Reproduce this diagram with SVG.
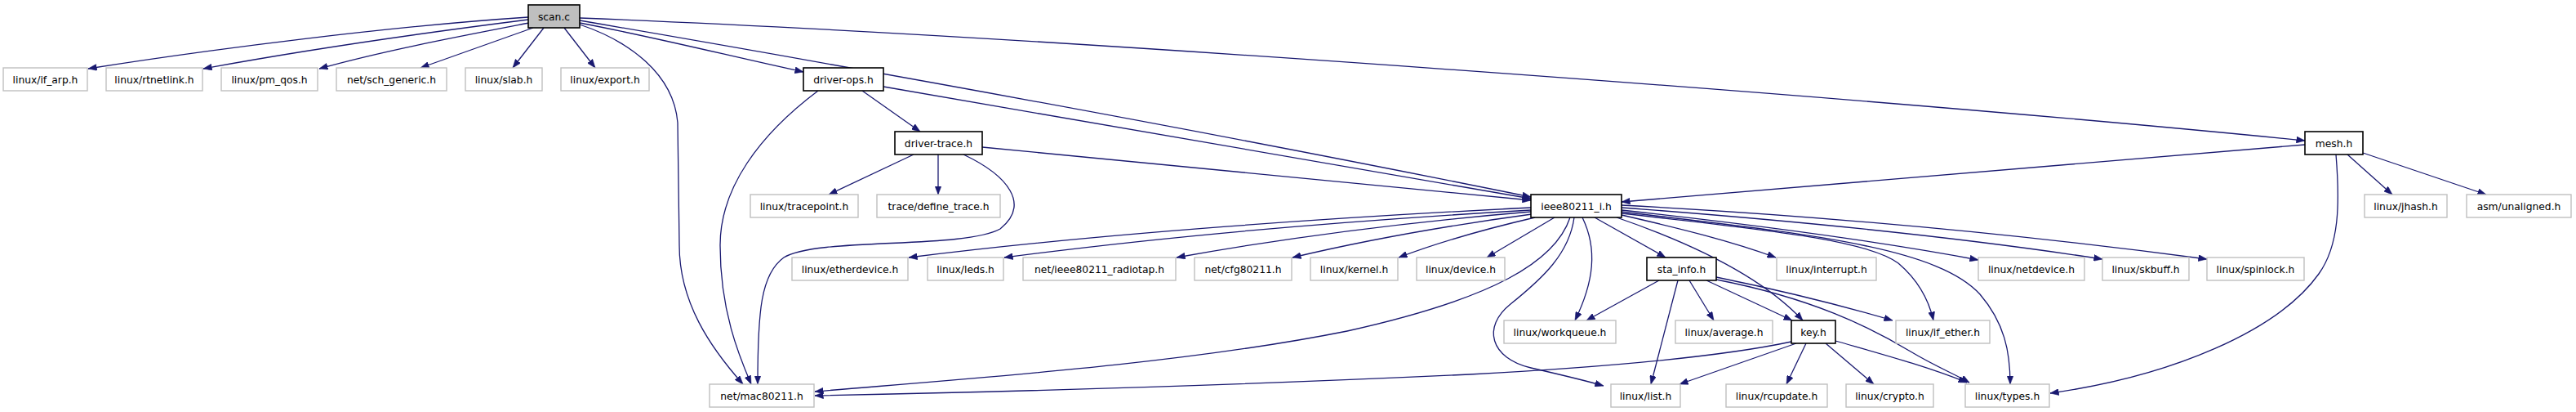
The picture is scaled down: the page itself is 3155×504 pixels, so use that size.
<svg xmlns="http://www.w3.org/2000/svg" width="3155" height="504" viewBox="0 0 3155 504">
<defs>
<marker id="a" markerWidth="11" markerHeight="8" refX="10.5" refY="4" orient="auto" markerUnits="userSpaceOnUse"><path d="M0,0 L10.5,4 L0,8 z" fill="#191970" stroke="#191970" stroke-width="0.5"/></marker>
<style>
.g rect{fill:#fff;stroke:#bfbfbf;stroke-width:1.4}
.k rect{fill:#fff;stroke:#000;stroke-width:1.6}
.r rect{fill:#bfbfbf;stroke:#000;stroke-width:1.6}
text{font-family:"DejaVu Sans","Liberation Sans",sans-serif;font-size:12.3px;fill:#000;text-anchor:middle}
#edges path{fill:none;stroke:#191970;stroke-width:1.3;marker-end:url(#a)}
</style>
</defs>
<rect width="3155" height="504" fill="#fff"/>
<g id="edges">
<path d="M647,21 C480,32 260,60 108,84"/>
<path d="M647,24 C520,40 380,60 249,84"/>
<path d="M648,28 C560,45 470,62 391,84"/>
<path d="M653,34 L515,83"/>
<path d="M666,34 L628,83"/>
<path d="M691,34 L729,83"/>
<path d="M710,28 C800,45 900,70 984,88"/>
<path d="M710,25 C1100,92 1500,165 1875,241"/>
<path d="M710,22 C1300,45 2300,120 2823,172"/>
<path d="M710,30 C770,50 825,90 830,150 L832,300 C832,370 870,425 910,470"/>
<path d="M1056,111 L1127,161"/>
<path d="M1082,106 L1875,243"/>
<path d="M1002,111 C930,165 882,230 882,300 C882,380 905,435 920,470"/>
<path d="M1119,189 L1015,238"/>
<path d="M1149,189 L1149,238"/>
<path d="M1203,180 L1875,245"/>
<path d="M1180,189 C1235,215 1262,250 1225,280 C1180,305 1000,290 960,315 C932,335 928,380 928,470"/>
<path d="M2823,177 L1986,247"/>
<path d="M2875,189 L2930,238"/>
<path d="M2894,187 L3045,238"/>
<path d="M2861,189 C2866,250 2865,300 2840,335 C2790,405 2660,460 2511,481"/>
<path d="M1875,254 C1650,265 1350,285 1113,315"/>
<path d="M1875,257 C1650,270 1420,290 1230,315"/>
<path d="M1875,259 C1720,272 1580,290 1441,315"/>
<path d="M1876,262 C1780,275 1680,292 1583,315"/>
<path d="M1880,266 C1820,280 1760,297 1713,315"/>
<path d="M1904,266 L1821,315"/>
<path d="M1953,266 L2040,315"/>
<path d="M1980,266 C2050,290 2150,330 2208,392"/>
<path d="M1986,263 C2060,280 2120,295 2175,315"/>
<path d="M1986,261 C2150,280 2285,292 2325,322 C2352,345 2363,370 2368,392"/>
<path d="M1986,259 C2200,285 2370,300 2425,360 C2455,395 2462,430 2462,470"/>
<path d="M1986,257 C2150,275 2300,295 2423,318"/>
<path d="M1986,254 C2200,270 2400,290 2575,317"/>
<path d="M1986,251 C2250,265 2500,290 2703,317"/>
<path d="M1928,266 C1922,310 1890,340 1850,372 C1815,400 1825,438 1875,450 C1910,458 1940,465 1964,472"/>
<path d="M1938,266 C1957,305 1952,345 1929,392"/>
<path d="M1923,266 C1905,320 1830,365 1650,405 C1450,445 1200,462 998,479"/>
<path d="M2032,343 L1943,392"/>
<path d="M2055,343 L2022,470"/>
<path d="M2069,343 L2099,392"/>
<path d="M2090,343 L2195,392"/>
<path d="M2102,339 C2180,355 2260,375 2318,392"/>
<path d="M2102,342 C2220,365 2290,400 2340,430 C2370,448 2395,458 2412,468"/>
<path d="M2194,418 C2100,438 1950,450 1800,458 C1500,472 1200,480 998,484"/>
<path d="M2200,420 L2057,470"/>
<path d="M2212,420 L2188,470"/>
<path d="M2236,420 L2295,470"/>
<path d="M2248,417 C2300,432 2360,448 2409,468"/>
</g>
<g id="n_scan" class="r"><rect x="647" y="6" width="63" height="28"/><text x="678.5" y="24.5">scan.c</text></g>
<g id="n_if_arp" class="g"><rect x="4" y="83" width="103" height="28"/><text x="55.5" y="101.5">linux/if_arp.h</text></g>
<g id="n_rtnetlink" class="g"><rect x="130" y="83" width="118" height="28"/><text x="189" y="101.5">linux/rtnetlink.h</text></g>
<g id="n_pm_qos" class="g"><rect x="271" y="83" width="118" height="28"/><text x="330" y="101.5">linux/pm_qos.h</text></g>
<g id="n_sch_generic" class="g"><rect x="412" y="83" width="135" height="28"/><text x="479.5" y="101.5">net/sch_generic.h</text></g>
<g id="n_slab" class="g"><rect x="570" y="83" width="94" height="28"/><text x="617" y="101.5">linux/slab.h</text></g>
<g id="n_export" class="g"><rect x="687" y="83" width="108" height="28"/><text x="741" y="101.5">linux/export.h</text></g>
<g id="n_driver_ops" class="k"><rect x="984" y="83" width="98" height="28"/><text x="1033" y="101.5">driver-ops.h</text></g>
<g id="n_driver_trace" class="k"><rect x="1096" y="161" width="107" height="28"/><text x="1149.5" y="179.5">driver-trace.h</text></g>
<g id="n_mesh" class="k"><rect x="2823" y="161" width="71" height="28"/><text x="2858.5" y="179.5">mesh.h</text></g>
<g id="n_tracepoint" class="g"><rect x="919" y="238" width="132" height="28"/><text x="985" y="256.5">linux/tracepoint.h</text></g>
<g id="n_define_trace" class="g"><rect x="1074" y="238" width="151" height="28"/><text x="1149.5" y="256.5">trace/define_trace.h</text></g>
<g id="n_ieee80211_i" class="k"><rect x="1875" y="238" width="111" height="28"/><text x="1930.5" y="256.5">ieee80211_i.h</text></g>
<g id="n_jhash" class="g"><rect x="2896" y="238" width="101" height="28"/><text x="2946.5" y="256.5">linux/jhash.h</text></g>
<g id="n_unaligned" class="g"><rect x="3021" y="238" width="128" height="28"/><text x="3085" y="256.5">asm/unaligned.h</text></g>
<g id="n_etherdevice" class="g"><rect x="970" y="315" width="142" height="28"/><text x="1041" y="333.5">linux/etherdevice.h</text></g>
<g id="n_leds" class="g"><rect x="1136" y="315" width="93" height="28"/><text x="1182.5" y="333.5">linux/leds.h</text></g>
<g id="n_radiotap" class="g"><rect x="1253" y="315" width="187" height="28"/><text x="1346.5" y="333.5">net/ieee80211_radiotap.h</text></g>
<g id="n_cfg80211" class="g"><rect x="1463" y="315" width="119" height="28"/><text x="1522.5" y="333.5">net/cfg80211.h</text></g>
<g id="n_kernel" class="g"><rect x="1605" y="315" width="107" height="28"/><text x="1658.5" y="333.5">linux/kernel.h</text></g>
<g id="n_device" class="g"><rect x="1735" y="315" width="108" height="28"/><text x="1789" y="333.5">linux/device.h</text></g>
<g id="n_sta_info" class="k"><rect x="2017" y="315" width="85" height="28"/><text x="2059.5" y="333.5">sta_info.h</text></g>
<g id="n_interrupt" class="g"><rect x="2176" y="315" width="122" height="28"/><text x="2237" y="333.5">linux/interrupt.h</text></g>
<g id="n_netdevice" class="g"><rect x="2423" y="315" width="130" height="28"/><text x="2488" y="333.5">linux/netdevice.h</text></g>
<g id="n_skbuff" class="g"><rect x="2575" y="315" width="106" height="28"/><text x="2628" y="333.5">linux/skbuff.h</text></g>
<g id="n_spinlock" class="g"><rect x="2703" y="315" width="119" height="28"/><text x="2762.5" y="333.5">linux/spinlock.h</text></g>
<g id="n_workqueue" class="g"><rect x="1842" y="392" width="137" height="28"/><text x="1910.5" y="410.5">linux/workqueue.h</text></g>
<g id="n_average" class="g"><rect x="2052" y="392" width="119" height="28"/><text x="2111.5" y="410.5">linux/average.h</text></g>
<g id="n_key" class="k"><rect x="2194" y="392" width="54" height="28"/><text x="2221" y="410.5">key.h</text></g>
<g id="n_if_ether" class="g"><rect x="2322" y="392" width="115" height="28"/><text x="2379.5" y="410.5">linux/if_ether.h</text></g>
<g id="n_mac80211" class="g"><rect x="869" y="470" width="128" height="28"/><text x="933" y="488.5">net/mac80211.h</text></g>
<g id="n_list" class="g"><rect x="1973" y="470" width="85" height="28"/><text x="2015.5" y="488.5">linux/list.h</text></g>
<g id="n_rcupdate" class="g"><rect x="2114" y="470" width="124" height="28"/><text x="2176" y="488.5">linux/rcupdate.h</text></g>
<g id="n_crypto" class="g"><rect x="2261" y="470" width="107" height="28"/><text x="2314.5" y="488.5">linux/crypto.h</text></g>
<g id="n_types" class="g"><rect x="2407" y="470" width="103" height="28"/><text x="2458.5" y="488.5">linux/types.h</text></g>
</svg>
